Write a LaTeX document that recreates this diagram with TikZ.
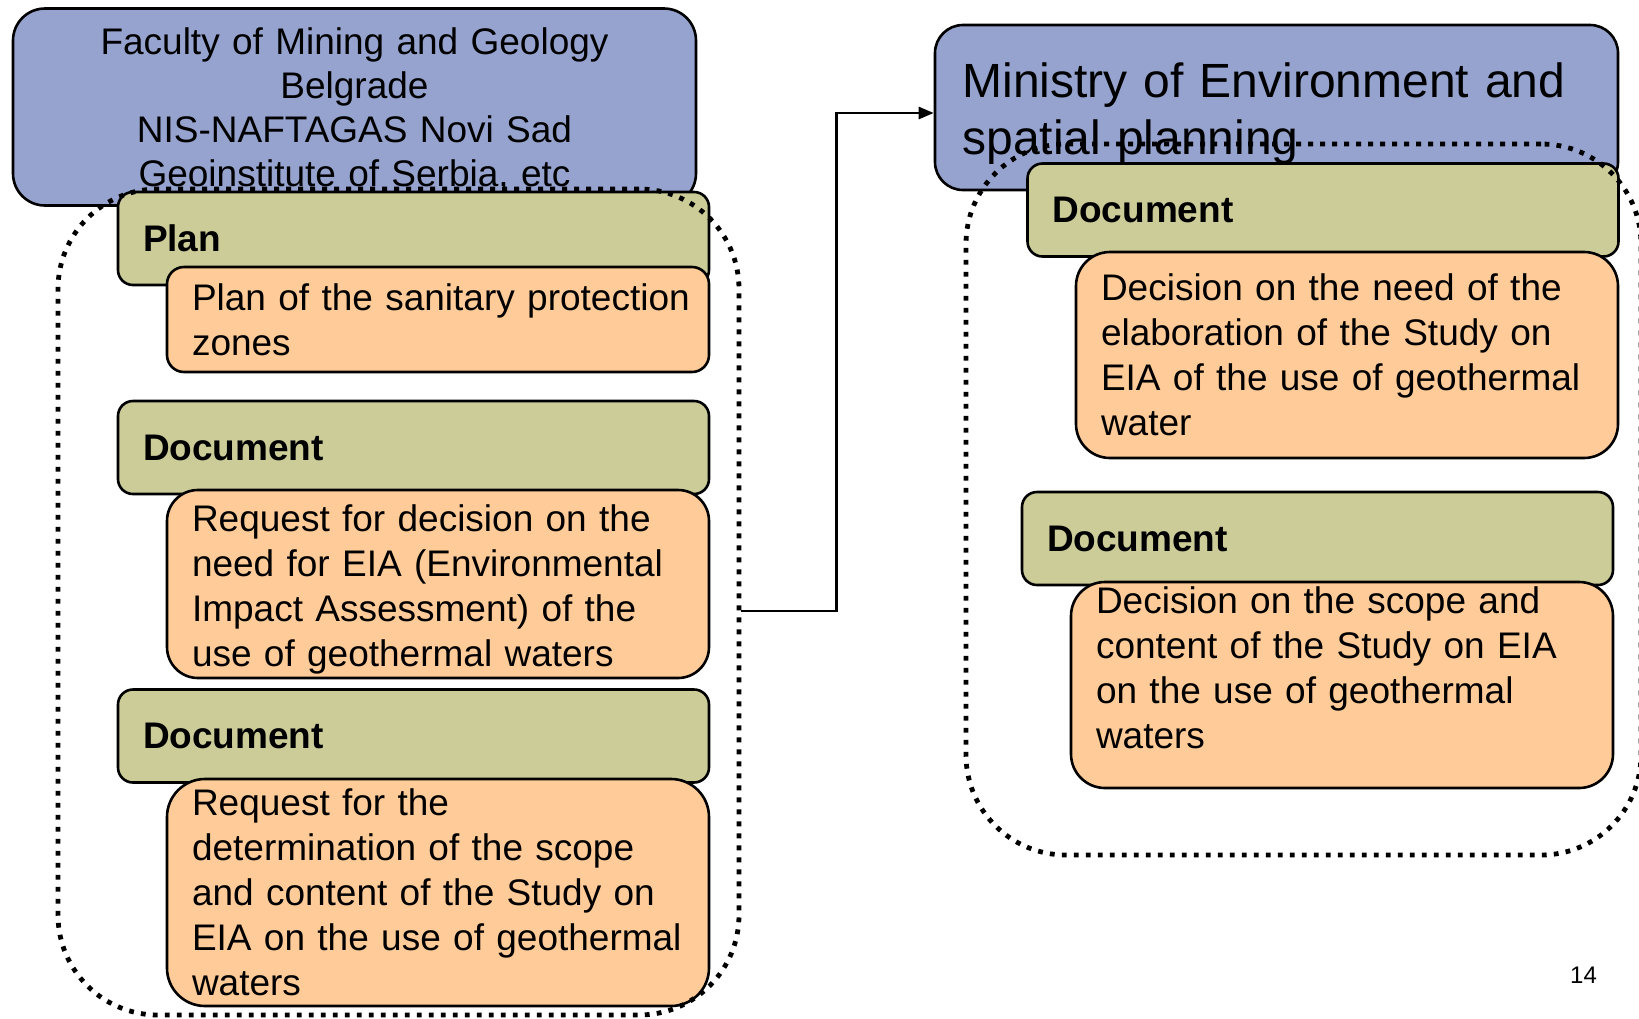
\documentclass[tikz,border=0pt]{standalone}
\usepackage{fontspec}
\setmainfont{Liberation Sans}
\usetikzlibrary{arrows.meta}

\definecolor{instblue}{RGB}{149,163,206}
\definecolor{docolive}{RGB}{204,204,153}
\definecolor{docorange}{RGB}{255,204,153}

\begin{document}
\begin{tikzpicture}[
  x=0.5pt,y=-0.5pt,
  inst/.style={rectangle,draw=black,line width=1.3pt,fill=instblue},
  doctitle/.style={rectangle,rounded corners=7.5pt,draw=black,line width=1.3pt,fill=docolive,
    minimum height=46.5pt,text width=270.5pt,inner xsep=12.5pt,align=left,
    font=\fontsize{18.5}{22.5}\selectfont\bfseries},
  docbody/.style={rectangle,draw=black,line width=1.3pt,fill=docorange,
    text width=246pt,inner xsep=12.5pt,inner ysep=2pt,align=left,
    font=\fontsize{18.5}{22.5}\selectfont},
  dotgroup/.style={rectangle,rounded corners=50pt,draw=black,line width=2.4pt,
    dash pattern=on 2.4pt off 3.6pt},
  flow/.style={line width=1.3pt,-{Triangle[length=7.5pt,width=6pt]}}
]
\useasboundingbox (0,0) rectangle (1639,1018);

% institutions
\node[inst,rounded corners=16pt,minimum height=98.5pt,text width=320pt,inner xsep=10.75pt,
  text height=16pt,align=center,font=\fontsize{18.5}{22}\selectfont] (faculty) at (354.5,107)
  {Faculty of Mining and Geology\\Belgrade\\NIS-NAFTAGAS Novi Sad\\Geoinstitute of Serbia, etc};
\node[inst,rounded corners=14pt,minimum height=82.5pt,text width=314pt,inner xsep=13.75pt,
  text height=23.5pt,align=left,font=\fontsize{24}{28.75}\selectfont] (ministry) at (1276.5,107.5)
  {Ministry of Environment and\\spatial planning};

% left column
\node[doctitle] (plan) at (413.5,238.5) {Plan};
\node[docbody,rounded corners=8.5pt,minimum height=52.5pt] (plantxt) at (438,319.5)
  {\mbox{Plan of the sanitary protection}\\zones};
\node[doctitle] (doca) at (413.5,447.5) {Document};
\node[docbody,rounded corners=15.5pt,minimum height=94pt,text height=18.5pt] (reqa) at (438,584)
  {Request for decision on the\\need for EIA (Environmental\\Impact Assessment) of the\\use of geothermal waters};
\node[doctitle] (docb) at (413.5,736) {Document};
\node[docbody,rounded corners=19pt,minimum height=113.5pt] (reqb) at (438,892.5)
  {Request for the\\determination of the scope\\and content of the Study on\\EIA on the use of geothermal\\waters};

% right column
\node[doctitle] (docc) at (1323,210) {Document};
\node[docbody,rounded corners=17pt,minimum height=103pt] (deca) at (1347,355)
  {Decision on the need of the\\elaboration of the Study on\\EIA of the use of geothermal\\water};
\node[doctitle] (docd) at (1317.5,538.5) {Document};
\node[docbody,rounded corners=17pt,minimum height=103pt,text depth=85pt] (decb) at (1342,685)
  {Decision on the scope and\\content of the Study on EIA\\on the use of geothermal\\waters};

% dotted groups
\node[dotgroup,minimum width=340.5pt,minimum height=413pt] (leftgrp) at (398.5,602) {};
\node[dotgroup,minimum width=337.5pt,minimum height=355.5pt] (rightgrp) at (1303.5,499.5) {};

\draw[flow] ([yshift=-4.5pt]leftgrp.east) -- ++(95,0) |- ([yshift=-2.75pt]ministry.west);

\node[font=\fontsize{12}{14}\selectfont] (pagenum) at (1583.5,975) {14};
\end{tikzpicture}
\end{document}
